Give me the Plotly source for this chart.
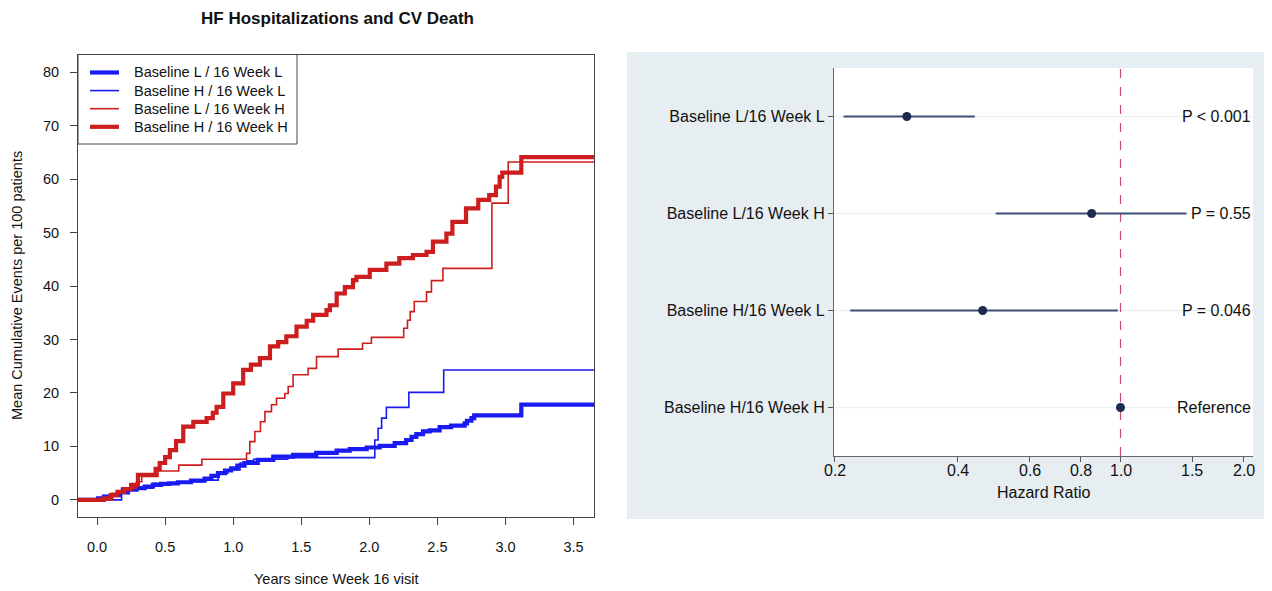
import math
import plotly.graph_objects as go

# ---------------- Left panel data: mean cumulative events per 100 patients ----------------
t_LL = [-0.14, 0.007, 0.05, 0.105, 0.16, 0.227, 0.29, 0.35, 0.41, 0.47, 0.53, 0.594, 0.69, 0.79,
        0.84, 0.888, 0.94, 0.985, 1.03, 1.083, 1.18, 1.294, 1.44, 1.61, 1.76, 1.856, 1.98, 2.076,
        2.186, 2.27, 2.31, 2.345, 2.394, 2.443, 2.516, 2.60, 2.70, 2.717, 2.75, 2.77, 3.116]
v_LL = [0, 0.3, 0.6, 0.9, 1.4, 1.9, 2.2, 2.5, 2.8, 3.0, 3.1, 3.3, 3.6, 4.0,
        4.5, 5.0, 5.5, 5.9, 6.4, 6.9, 7.5, 8.1, 8.4, 8.8, 9.2, 9.5, 9.8, 10.1,
        10.6, 11.2, 11.8, 12.3, 12.8, 13.0, 13.6, 13.9, 14.3, 14.8, 15.3, 15.8, 17.8]

t_HL = [-0.14, 0.18, 0.41, 0.60, 0.78, 0.89, 0.96, 1.05, 1.10, 1.15, 1.40, 2.04, 2.064, 2.09,
        2.125, 2.29, 2.546]
v_HL = [0, 2.2, 3.1, 3.4, 3.7, 5.0, 5.6, 6.9, 7.3, 7.6, 7.9, 11.2, 13.4, 15.3,
        17.3, 20.1, 24.3]

t_LH = [-0.14, 0.108, 0.193, 0.29, 0.328, 0.448, 0.60, 0.77, 1.098, 1.122, 1.159, 1.20, 1.233,
        1.281, 1.318, 1.379, 1.404, 1.44, 1.55, 1.612, 1.771, 1.95, 2.015, 2.252, 2.28, 2.30,
        2.33, 2.42, 2.456, 2.54, 2.90, 3.02]
v_LH = [0, 1.25, 2.2, 3.4, 4.4, 5.4, 6.5, 7.6, 8.7, 10.9, 12.8, 14.6, 16.5,
        17.8, 19.0, 19.9, 21.2, 23.4, 24.6, 26.8, 28.2, 29.3, 30.4, 32.1, 33.6, 35.2,
        37.1, 38.9, 41.0, 43.3, 55.5, 63.2]

t_HH = [-0.14, 0.05, 0.10, 0.15, 0.20, 0.25, 0.30, 0.43, 0.46, 0.50, 0.535, 0.58, 0.633, 0.707,
        0.805, 0.85, 0.878, 0.927, 1.0, 1.073, 1.13, 1.196, 1.27, 1.33, 1.39, 1.465, 1.54, 1.587,
        1.685, 1.71, 1.76, 1.82, 1.88, 1.905, 2.003, 2.125, 2.22, 2.32, 2.42, 2.467, 2.566, 2.61,
        2.71, 2.80, 2.88, 2.93, 2.957, 2.976, 3.116]
v_HH = [0, 0.3, 0.9, 1.5, 2.0, 2.8, 4.7, 5.8, 6.9, 8.0, 9.3, 11.0, 13.7, 14.6,
        15.3, 16.3, 17.4, 19.9, 21.8, 24.3, 25.3, 26.5, 28.7, 29.5, 30.6, 32.4, 33.5, 34.6,
        35.5, 36.4, 38.6, 39.8, 41.1, 41.7, 43.0, 44.2, 45.2, 45.8, 46.4, 48.3, 49.8, 52.0,
        54.5, 56.1, 57.0, 58.6, 60.4, 61.2, 64.1]

follow_up_end = 3.65
x_ticks = [0.0, 0.5, 1.0, 1.5, 2.0, 2.5, 3.0, 3.5]
y_ticks = [0, 10, 20, 30, 40, 50, 60, 70, 80]

legend_names = ["Baseline L / 16 Week L", "Baseline H / 16 Week L",
                "Baseline L / 16 Week H", "Baseline H / 16 Week H"]

# ---------------- Right panel data: hazard ratios ----------------
hr_labels = ["Baseline L/16 Week L", "Baseline L/16 Week H",
             "Baseline H/16 Week L", "Baseline H/16 Week H"]
hr_rows = [4, 3, 2, 1]
hr_est = [0.30, 0.85, 0.46, 1.0]
hr_lo = [0.21, 0.495, 0.218, None]
hr_hi = [0.44, 1.45, 0.985, None]
p_texts = ["P < 0.001", "P = 0.55", "P = 0.046", "Reference"]
hr_ticks = [0.2, 0.4, 0.6, 0.8, 1.0, 1.5, 2.0]

FONT = "Liberation Sans, Arial, Helvetica, sans-serif"
BLUE = "#1a1af2"
RED = "#cc1e1e"
NAVY = "#1c2b4f"
CI_COL = "#3d4f74"
TXT = "#111111"

# page offset compensation (browser body margin)
OFF = 8
W, H = 1264, 583
def px_x(p): return (p - OFF) / W
def px_y(p): return 1 - (p - OFF) / H

fig = go.Figure()

styles = [(BLUE, 4.2), (BLUE, 1.6), (RED, 1.6), (RED, 4.2)]
series = [(t_LL, v_LL), (t_HL, v_HL), (t_LH, v_LH), (t_HH, v_HH)]
for (t, v), (col, w), name in zip(series, styles, legend_names):
    fig.add_trace(go.Scatter(
        x=t + [follow_up_end], y=v + [v[-1]], mode="lines", name=name,
        line=dict(color=col, width=w, shape="hv"),
        xaxis="x", yaxis="y", showlegend=False))

# light row gridlines in forest plot
fig.add_trace(go.Scatter(
    x=sum([[0.199, 2.11, None] for _ in hr_rows], []),
    y=sum([[r, r, None] for r in hr_rows], []),
    mode="lines", line=dict(color="#edf1f4", width=1.5),
    xaxis="x2", yaxis="y2", showlegend=False, hoverinfo="skip"))

# reference line at HR = 1
fig.add_trace(go.Scatter(
    x=[1.0, 1.0], y=[0.5, 4.5], mode="lines",
    line=dict(color="#c94a6a", width=1.2, dash="dash"),
    xaxis="x2", yaxis="y2", showlegend=False, hoverinfo="skip"))

# confidence intervals
ci_x, ci_y = [], []
for lo, hi, r in zip(hr_lo, hr_hi, hr_rows):
    if lo is not None:
        ci_x += [lo, hi, None]
        ci_y += [r, r, None]
fig.add_trace(go.Scatter(
    x=ci_x, y=ci_y, mode="lines", line=dict(color=CI_COL, width=2),
    xaxis="x2", yaxis="y2", showlegend=False))

fig.add_trace(go.Scatter(
    x=hr_est, y=hr_rows, mode="markers",
    marker=dict(color=NAVY, size=9),
    xaxis="x2", yaxis="y2", showlegend=False))

annotations = [
    dict(text="<b>HF Hospitalizations and CV Death</b>", x=px_x(337), y=px_y(18.5),
         xref="paper", yref="paper", xanchor="center", yanchor="middle",
         showarrow=False, font=dict(size=17, color=TXT)),
    dict(text="Years since Week 16 visit", x=px_x(336), y=px_y(579),
         xref="paper", yref="paper", xanchor="center", yanchor="middle",
         showarrow=False, font=dict(size=14.5, color=TXT)),
    dict(text="Mean Cumulative Events per 100 patients", x=px_x(17), y=px_y(286),
         xref="paper", yref="paper", xanchor="center", yanchor="middle",
         showarrow=False, textangle=-90, font=dict(size=14.5, color=TXT)),
    dict(text="Hazard Ratio", x=px_x(1043), y=px_y(492),
         xref="paper", yref="paper", xanchor="center", yanchor="middle",
         showarrow=False, font=dict(size=16, color=TXT)),
]
for txt, r in zip(p_texts, hr_rows):
    annotations.append(dict(text=txt, x=1, y=r, xref="x2 domain", yref="y2",
                            xanchor="right", yanchor="middle", showarrow=False,
                            font=dict(size=16, color=TXT)))
# forest x tick labels
for v in hr_ticks:
    annotations.append(dict(text=f"{v:.1f}", x=math.log10(v), y=px_y(470),
                            xref="x2", yref="paper", xanchor="center",
                            yanchor="middle", showarrow=False,
                            font=dict(size=16, color=TXT)))

# manual legend (R style box)
shapes = [
    dict(type="rect", xref="paper", yref="paper",
         x0=px_x(627), x1=px_x(1270), y0=px_y(519), y1=px_y(52),
         fillcolor="#e7eef1", line=dict(width=0), layer="below"),
    dict(type="rect", xref="paper", yref="paper",
         x0=px_x(834), x1=px_x(1253), y0=px_y(456), y1=px_y(68),
         fillcolor="white", line=dict(width=0), layer="below"),
    dict(type="rect", xref="paper", yref="paper",
         x0=px_x(78), x1=px_x(297), y0=px_y(144), y1=px_y(54.5),
         fillcolor="white", line=dict(color="#444", width=1)),
]
for i, (name, (col, w)) in enumerate(zip(legend_names, styles)):
    yy = 72.5 + 18.1 * i
    shapes.append(dict(type="line", xref="paper", yref="paper",
                       x0=px_x(90), x1=px_x(119), y0=px_y(yy), y1=px_y(yy),
                       line=dict(color=col, width=w)))
    annotations.append(dict(text=name, x=px_x(132), y=px_y(yy), xref="paper",
                            yref="paper", xanchor="left", yanchor="middle",
                            showarrow=False, font=dict(size=14.5, color=TXT)))

fig.update_layout(
    width=W, height=H,
    margin=dict(l=0, r=0, t=0, b=0),
    paper_bgcolor="white", plot_bgcolor="white",
    font=dict(family=FONT, color=TXT),
    showlegend=False,
    xaxis=dict(domain=[px_x(78), px_x(594)], range=[-0.14, 3.65],
               tickvals=x_ticks, ticktext=[f"{v:.1f}" for v in x_ticks],
               ticks="outside", ticklen=7, tickcolor="#444",
               showline=True, mirror=True, linecolor="#444", linewidth=1,
               showgrid=False, zeroline=False, tickfont=dict(size=14.5),
               ticklabelstandoff=10, anchor="y"),
    yaxis=dict(domain=[px_y(517), px_y(55)], range=[-3.2, 83.2],
               tickvals=y_ticks, ticks="outside", ticklen=7, tickcolor="#444",
               showline=True, mirror=True, linecolor="#444", linewidth=1,
               showgrid=False, zeroline=False, tickfont=dict(size=14.5),
               ticklabelstandoff=8, anchor="x"),
    xaxis2=dict(domain=[px_x(834), px_x(1253)], type="log",
                range=[math.log10(0.199), math.log10(2.11)],
                tickvals=hr_ticks, showticklabels=False,
                ticks="outside", ticklen=5, tickcolor="#555",
                showline=True, linecolor="#666", linewidth=1.2,
                showgrid=False, zeroline=False, anchor="y2"),
    yaxis2=dict(domain=[px_y(456), px_y(68)], range=[0.5, 4.5],
                tickvals=hr_rows, ticktext=hr_labels,
                ticks="outside", ticklen=5, tickcolor="#555",
                showline=True, linecolor="#666", linewidth=1.2,
                showgrid=False, zeroline=False, tickfont=dict(size=16),
                anchor="x2"),
    shapes=shapes,
    annotations=annotations,
)

fig.write_html("out.html")
